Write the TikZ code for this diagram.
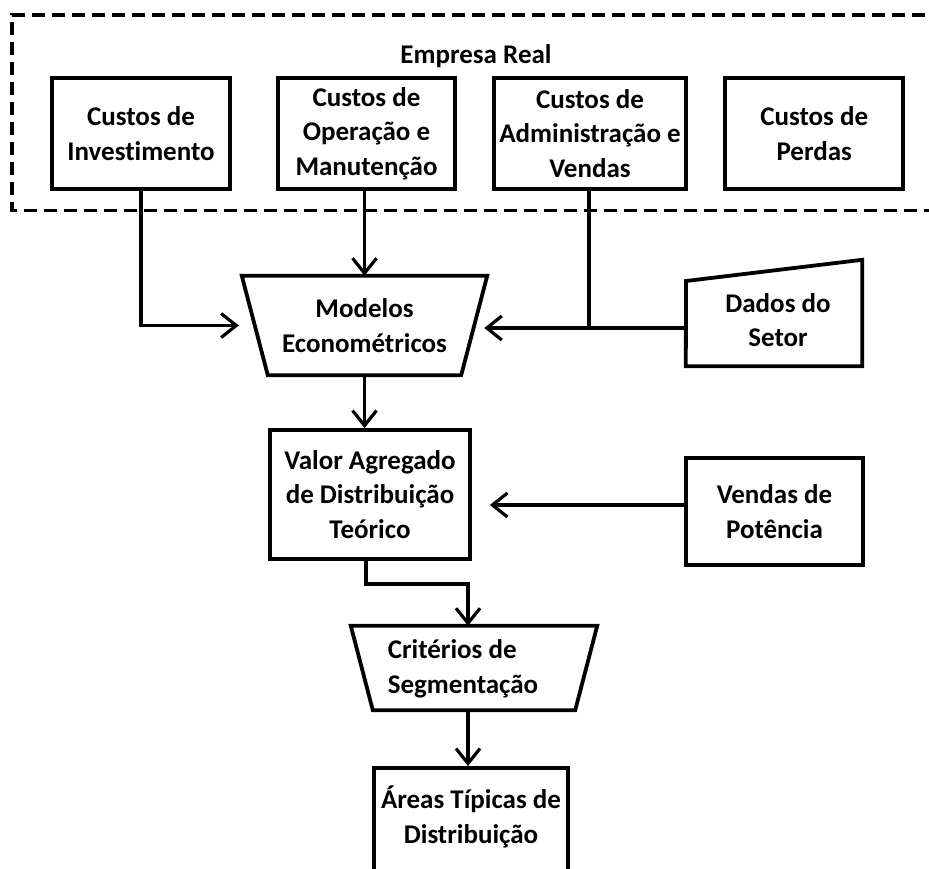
\documentclass[tikz,border=0pt]{standalone}
\usepackage{fontspec}
\setmainfont{Carlito}[Ligatures=NoCommon]
\usetikzlibrary{arrows.meta}
\begin{document}
\begin{tikzpicture}[x=1pt,y=-1pt,
  every node/.style={font=\bfseries\fontsize{27}{34.5}\selectfont, align=center, inner sep=0pt},
  box/.style={draw, line width=3.8pt, minimum width=#1},
  frame/.style={draw=none, minimum width=#1},
  outline/.style={line width=3.8pt, line join=miter},
  group/.style={line width=3.8pt, dash pattern=on 13pt off 7pt},
  arr/.style={line width=3.2pt, -{Straight Barb[length=15pt,width=24pt,line width=3.2pt]}},
  link/.style={line width=3.2pt}]

\useasboundingbox (0,0) rectangle (929,868);

% company group
\draw[group] (945,15) -- (12,15) -- (12,210.5) -- (945,210.5);
\node (emp) at (476,56) {Empresa Real};

% cost boxes
\node[box=177.6pt, minimum height=111pt] (inv) at (141,133.5) {Custos de\\Investimento};
\node[box=177pt, minimum height=111pt] (opm) at (366.5,133.5) {Custos de\\Operação e\\Manutenção};
\node[box=192.6pt, minimum height=111pt] (adm) at (590,133.5) {Custos de\\Administração e\\Vendas};
\node[box=177.7pt, minimum height=111pt] (per) at (814.2,133.5) {Custos de\\Perdas};

% econometric models (inverted trapezium)
\node[frame=245pt, minimum height=99pt] (mod) at (364.5,325.5) {Modelos\\Econométricos};
\draw[outline] (mod.north west) -- (mod.north east)
  -- ([xshift=-26pt]mod.south east) -- ([xshift=26pt]mod.south west) -- cycle;

% sector data (manual input)
\node[frame=176pt, minimum height=106pt] (dad) at (774,313) {};
\draw[outline] (686,281) -- (dad.north east) -- (dad.south east) -- (dad.south west) -- cycle;
\node (dadt) at (778,320) {Dados do\\Setor};

% theoretical value
\node[box=200pt, minimum height=129pt] (val) at (370,494.5) {Valor Agregado\\de Distribuição\\Teórico};

% power sales
\node[box=177pt, minimum height=107pt] (ven) at (774.5,511.5) {Vendas de\\Potência};

% segmentation criteria
\node[frame=246pt, minimum height=84pt] (cri) at (474,668) {};
\draw[outline] (cri.north west) -- (cri.north east)
  -- ([xshift=-22pt]cri.south east) -- ([xshift=22pt]cri.south west) -- cycle;
\node[align=left] (crit) at (463,669) {Critérios de\\Segmentação};

% typical areas
\node[box=194pt, minimum height=120pt] (are) at (471,828) {};
\node (aret) at (471,817) {Áreas Típicas de\\Distribuição};

% connectors
\coordinate (j) at (589,328);
\coordinate (vy) at (0,505);
\draw[arr] (inv.south) |- ([xshift=-3pt]mod.west);
\draw[arr] (opm.south -| mod.north) -- (mod.north);
\draw[link] (adm.south -| j) -- (j);
\draw[arr] (dad.west |- j) -- ([xshift=-3pt]mod.east |- j);
\draw[arr] (mod.south) -- (mod.south |- val.north);
\draw[arr] (ven.west |- vy) -- ([xshift=18pt]val.east |- vy);
\draw[arr] ([xshift=-4pt]val.south) -- ++(0,23) -| ([xshift=-6pt]cri.north);
\draw[arr] ([xshift=-6pt]cri.south) -- ([xshift=-6pt]cri.south |- are.north);
\end{tikzpicture}
\end{document}
